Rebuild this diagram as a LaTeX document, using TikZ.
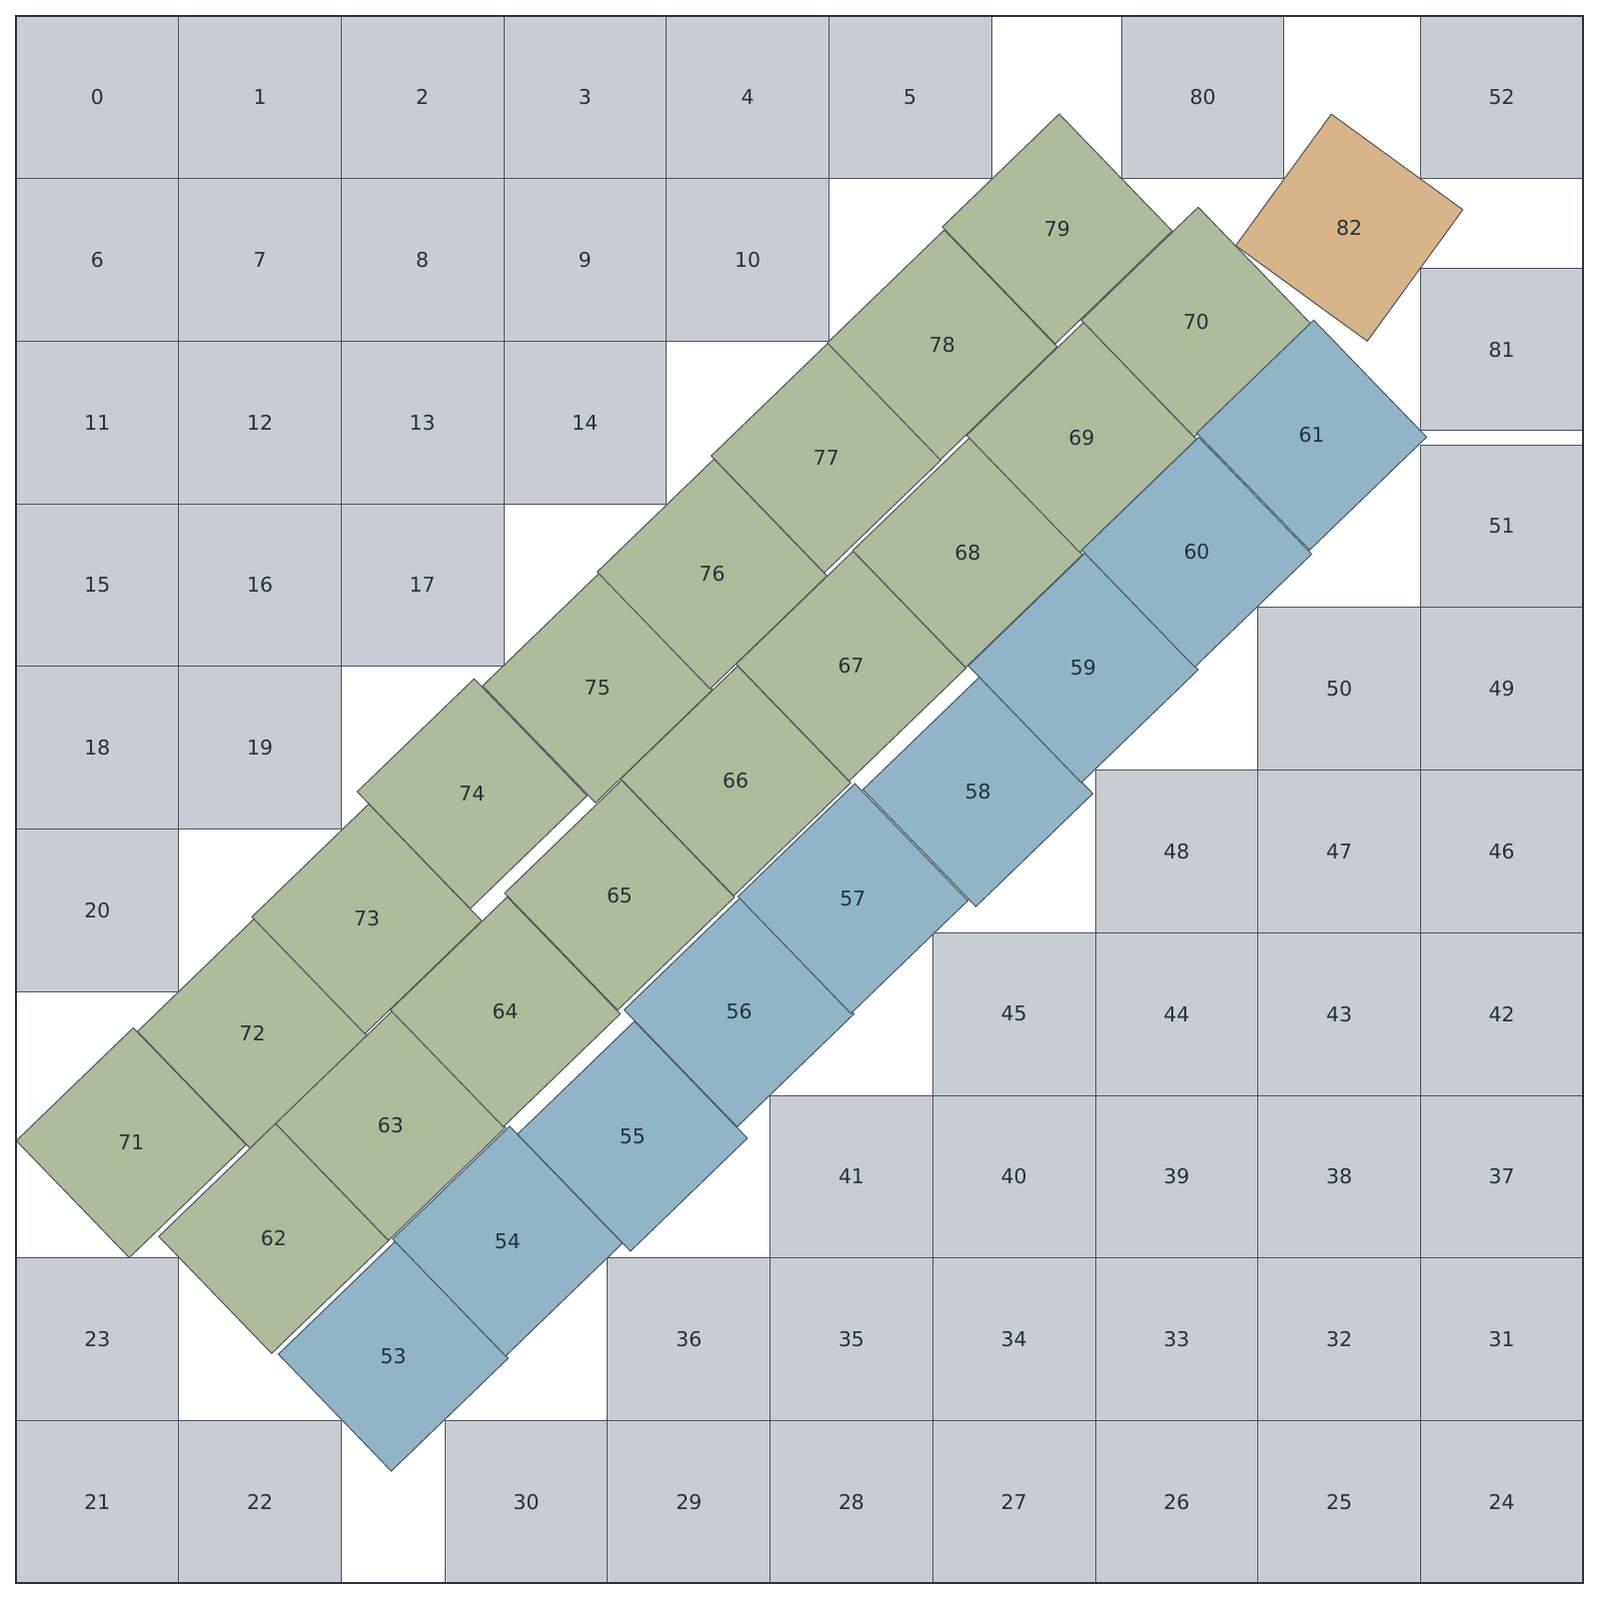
\documentclass[tikz,border=0pt]{standalone}
\usepackage{fontspec}
\setmainfont{DejaVu Sans}
\definecolor{greyc}{HTML}{C8CDD4}
\definecolor{greenc}{HTML}{AEBB9C}
\definecolor{bluec}{HTML}{91B5C7}
\definecolor{orangec}{HTML}{D7B488}
\definecolor{edgec}{HTML}{4B535C}
\definecolor{textc}{HTML}{263238}
\definecolor{framec}{HTML}{2B3440}
\newcommand\gsq[3]{\node[gbox] (s#1) at ({#2+0.5},{#3+0.5}) {#1};}
\newcommand\tsq[5]{\node[rbox,fill=#4,rotate=#5] (s#1) at (#2,#3) {};
  \node[lab] (t#1) at (s#1.center) {#1};}
\begin{document}
\begin{tikzpicture}[x=81.333pt,y=-81.333pt,
  gbox/.style={draw=edgec,line width=0.5pt,fill=greyc,minimum size=81.333pt,
    inner sep=0pt,outer sep=0pt,text=textc,font=\fontsize{10.2}{12}\selectfont},
  rbox/.style={draw=edgec,line width=0.5pt,minimum size=81.333pt,inner sep=0pt,outer sep=0pt},
  lab/.style={text=textc,inner sep=0pt,font=\fontsize{10.2}{12}\selectfont},
  framebox/.style={draw=framec,line width=1.2pt}]
\def\L{9.6392}
\useasboundingbox (-0.0984,-0.0984) rectangle ({\L+0.0984},{\L+0.0984});
% top-left grey block
\gsq{0}{0}{0}\gsq{1}{1}{0}\gsq{2}{2}{0}\gsq{3}{3}{0}\gsq{4}{4}{0}\gsq{5}{5}{0}
\gsq{6}{0}{1}\gsq{7}{1}{1}\gsq{8}{2}{1}\gsq{9}{3}{1}\gsq{10}{4}{1}
\gsq{11}{0}{2}\gsq{12}{1}{2}\gsq{13}{2}{2}\gsq{14}{3}{2}
\gsq{15}{0}{3}\gsq{16}{1}{3}\gsq{17}{2}{3}
\gsq{18}{0}{4}\gsq{19}{1}{4}
\gsq{20}{0}{5}
% bottom-left
\gsq{23}{0}{\L-2}
\gsq{21}{0}{\L-1}\gsq{22}{1}{\L-1}
% bottom-right block
\gsq{24}{\L-1}{\L-1}\gsq{25}{\L-2}{\L-1}\gsq{26}{\L-3}{\L-1}\gsq{27}{\L-4}{\L-1}
\gsq{28}{\L-5}{\L-1}\gsq{29}{\L-6}{\L-1}\gsq{30}{\L-7}{\L-1}
\gsq{31}{\L-1}{\L-2}\gsq{32}{\L-2}{\L-2}\gsq{33}{\L-3}{\L-2}\gsq{34}{\L-4}{\L-2}
\gsq{35}{\L-5}{\L-2}\gsq{36}{\L-6}{\L-2}
\gsq{37}{\L-1}{\L-3}\gsq{38}{\L-2}{\L-3}\gsq{39}{\L-3}{\L-3}\gsq{40}{\L-4}{\L-3}\gsq{41}{\L-5}{\L-3}
\gsq{42}{\L-1}{\L-4}\gsq{43}{\L-2}{\L-4}\gsq{44}{\L-3}{\L-4}\gsq{45}{\L-4}{\L-4}
\gsq{46}{\L-1}{\L-5}\gsq{47}{\L-2}{\L-5}\gsq{48}{\L-3}{\L-5}
\gsq{49}{\L-1}{\L-6}\gsq{50}{\L-2}{\L-6}
\gsq{51}{\L-1}{\L-7}
% top-right
\gsq{52}{\L-1}{0}
\gsq{80}{6.801}{0}
\gsq{81}{\L-1}{1.551}
% tilted strip, upper row
\tsq{71}{0.709}{6.931}{greenc}{44}
\tsq{72}{1.454}{6.259}{greenc}{44}
\tsq{73}{2.158}{5.554}{greenc}{44}
\tsq{74}{2.806}{4.784}{greenc}{44}
\tsq{75}{3.577}{4.133}{greenc}{44}
\tsq{76}{4.282}{3.432}{greenc}{44}
\tsq{77}{4.984}{2.718}{greenc}{44}
\tsq{78}{5.698}{2.023}{greenc}{44}
\tsq{79}{6.405}{1.310}{greenc}{44}
% middle row
\tsq{62}{1.585}{7.520}{greenc}{44}
\tsq{63}{2.304}{6.825}{greenc}{44}
\tsq{64}{3.010}{6.126}{greenc}{44}
\tsq{65}{3.713}{5.408}{greenc}{44}
\tsq{66}{4.427}{4.705}{greenc}{44}
\tsq{67}{5.137}{3.999}{greenc}{44}
\tsq{68}{5.854}{3.301}{greenc}{44}
\tsq{69}{6.555}{2.592}{greenc}{44}
\tsq{70}{7.260}{1.883}{greenc}{44}
% lower row
\tsq{53}{2.321}{8.244}{bluec}{44}
\tsq{54}{3.024}{7.536}{bluec}{44}
\tsq{55}{3.792}{6.891}{bluec}{44}
\tsq{56}{4.448}{6.126}{bluec}{44}
\tsq{57}{5.148}{5.429}{bluec}{44}
\tsq{58}{5.917}{4.771}{bluec}{44}
\tsq{59}{6.565}{4.009}{bluec}{44}
\tsq{60}{7.263}{3.298}{bluec}{44}
\tsq{61}{7.970}{2.578}{bluec}{44}
% odd one
\tsq{82}{8.2015}{1.302}{orangec}{54}
% frame
\draw[framebox] (0,0) rectangle (\L,\L);
\end{tikzpicture}
\end{document}
